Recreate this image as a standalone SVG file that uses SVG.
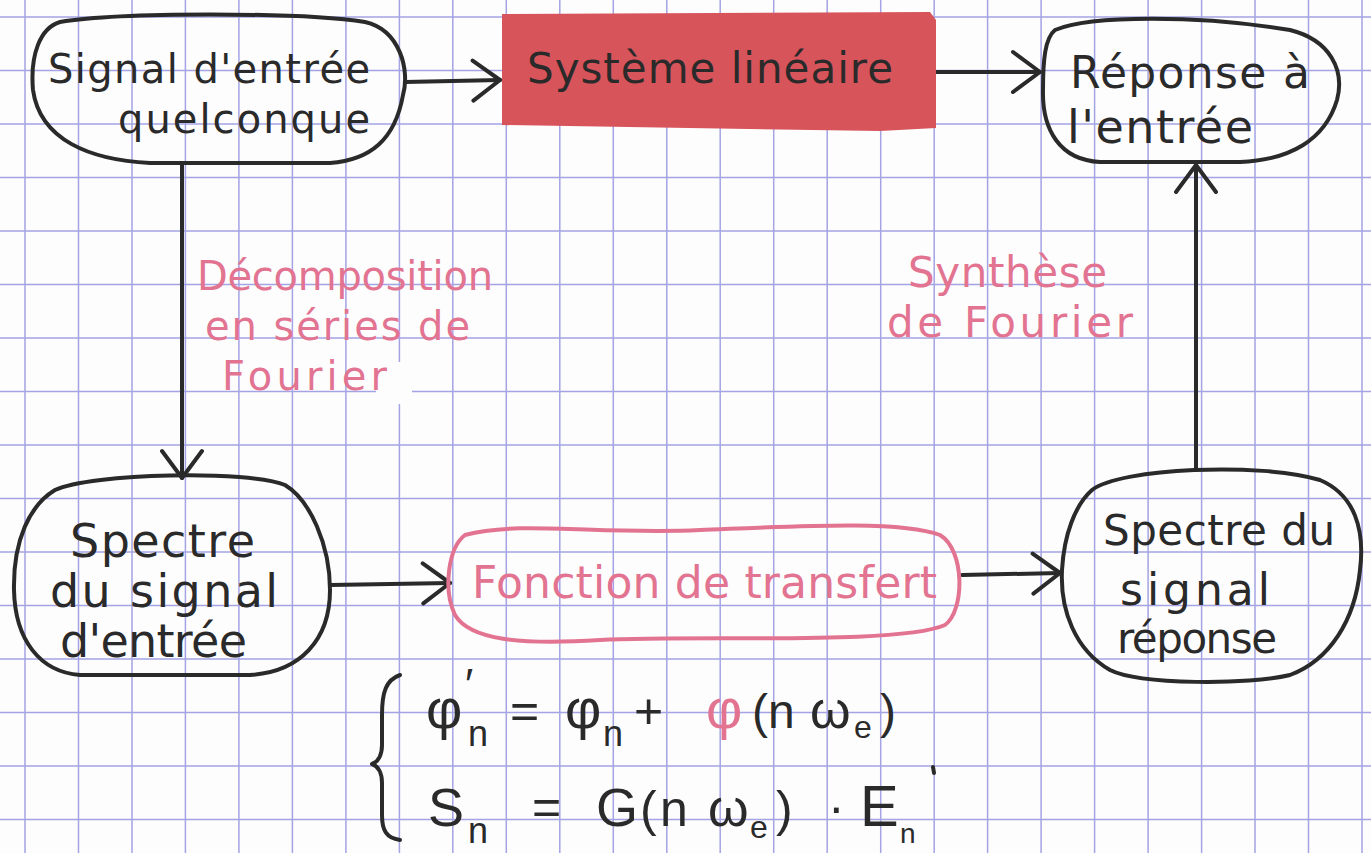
<svg xmlns="http://www.w3.org/2000/svg" width="1371" height="853" viewBox="0 0 1371 853">
<style>
.grid{stroke:#a4a4e4;stroke-width:1.5;fill:none}
.ink{fill:none;stroke:#2a2a2a;stroke-width:4;stroke-linecap:round;stroke-linejoin:round}
.pink{fill:none;stroke:#e27391;stroke-width:4;stroke-linecap:round;stroke-linejoin:round}
.t{font-family:"DejaVu Sans","Liberation Sans",sans-serif;fill:#2a2a2a}
.tp{font-family:"DejaVu Sans","Liberation Sans",sans-serif;fill:#e27391}
.m{font-family:"Liberation Sans","DejaVu Sans",sans-serif;fill:#2a2a2a}
.mp{fill:#e27391}
</style>
<defs>
<marker id="chev" markerUnits="userSpaceOnUse" viewBox="0 0 32 46" refX="30" refY="23" markerWidth="32" markerHeight="46" orient="auto">
<path d="M3 3 L30 23 L3 43" fill="none" stroke="#2a2a2a" stroke-width="4" stroke-linecap="round" stroke-linejoin="round"/>
</marker>
</defs>
<rect width="1371" height="853" fill="#fdfdfe"/>
<g id="grid" class="grid">
<path d="M25 0V853M78.5 0V853M132 0V853M185.4 0V853M238.9 0V853M292.4 0V853M345.9 0V853M399.4 0V853M452.8 0V853M506.3 0V853M559.8 0V853M613.3 0V853M666.8 0V853M720.2 0V853M773.7 0V853M827.2 0V853M880.7 0V853M934.2 0V853M987.6 0V853M1041.1 0V853M1094.6 0V853M1148.1 0V853M1201.6 0V853M1255 0V853M1308.5 0V853M1362 0V853"/>
<path d="M0 17H1371M0 70.5H1371M0 124H1371M0 177.5H1371M0 231H1371M0 284.5H1371M0 338H1371M0 391.5H1371M0 445H1371M0 498.5H1371M0 552H1371M0 605.5H1371M0 659H1371M0 712.5H1371M0 766H1371M0 819.5H1371"/>
</g>
<rect x="376" y="362" width="36" height="42" fill="#fdfdfe"/>
<g id="connectors">
<path class="ink" d="M405 82 L500 80" marker-end="url(#chev)"/>
<path class="ink" d="M935 72 L1040 72" marker-end="url(#chev)"/>
<path class="ink" d="M182 165 L182 478" marker-end="url(#chev)"/>
<path class="ink" d="M330 585 L450 583" marker-end="url(#chev)"/>
<path class="ink" d="M962 575 L1060 573" marker-end="url(#chev)"/>
<path class="ink" d="M1196 470 L1196 165" marker-end="url(#chev)"/>
</g>
<g id="n-signal-entree">
<path class="ink" d="M60 22 C120 12,300 12,365 22 C400 30,410 70,403 95 C395 140,370 160,330 163 L150 163 C90 160,40 140,33 90 C30 55,40 28,60 22 Z"/>
<text class="t" x="48" y="83" font-size="40" textLength="322">Signal d'entrée</text>
<text class="t" x="118" y="133" font-size="40" textLength="252">quelconque</text>
</g>
<g id="n-systeme">
<path d="M502 14 L930 12 L936 20 L936 128 L880 131 L502 125 Z" fill="#d8545b"/>
<text class="t" x="527" y="83" font-size="42" textLength="366">Système linéaire</text>
</g>
<g id="n-reponse">
<path class="ink" d="M1055 30 C1090 15,1200 15,1290 30 C1330 40,1345 70,1337 100 C1325 140,1290 160,1240 162 L1100 162 C1060 160,1042 130,1043 90 C1043 60,1045 38,1055 30 Z"/>
<text class="t" x="1070" y="88" font-size="44" textLength="240">Réponse à</text>
<text class="t" x="1067" y="143" font-size="46" textLength="186">l'entrée</text>
</g>
<g id="n-spectre-entree">
<path class="ink" d="M55 490 C90 473,250 470,285 485 C310 500,330 545,330 590 C330 640,300 672,250 675 L80 675 C40 672,15 640,14 590 C13 540,30 505,55 490 Z"/>
<text class="t" x="70" y="557" font-size="46" textLength="185">Spectre</text>
<text class="t" x="50" y="607" font-size="46" textLength="228">du signal</text>
<text class="t" x="60" y="657" font-size="46" textLength="187">d'entrée</text>
</g>
<g id="n-fonction">
<path class="pink" d="M465 535 C520 520,600 535,700 530 C800 526,900 520,940 535 C965 550,965 610,945 625 C900 645,700 635,600 640 C520 645,470 640,455 615 C443 590,448 548,465 535 Z"/>
<text class="tp" x="472" y="598" font-size="44" textLength="465">Fonction de transfert</text>
</g>
<g id="n-spectre-reponse">
<path class="ink" d="M1092 490 C1120 468,1260 462,1320 480 C1355 495,1365 530,1360 570 C1355 620,1330 660,1290 675 C1250 685,1140 685,1110 670 C1075 650,1060 610,1062 570 C1064 535,1075 505,1092 490 Z"/>
<text class="t" x="1103" y="545" font-size="42" textLength="232">Spectre du</text>
<text class="t" x="1120" y="605" font-size="44" textLength="150">signal</text>
<text class="t" x="1117" y="653" font-size="42" textLength="160">réponse</text>
</g>
<g id="label-decomposition">
<text class="tp" x="197" y="290" font-size="40" textLength="296">Décomposition</text>
<text class="tp" x="205" y="340" font-size="40" textLength="265">en séries de</text>
<text class="tp" x="222" y="390" font-size="40" textLength="165">Fourier</text>
</g>
<g id="label-synthese">
<text class="tp" x="908" y="287" font-size="42" textLength="199">Synthèse</text>
<text class="tp" x="887" y="337" font-size="42" textLength="246">de Fourier</text>
</g>
<g id="equations">
<path class="ink" d="M400 675 C386 680,382 692,382 715 L382 745 C382 755,378 762,372 764 C378 766,382 773,382 783 L382 815 C382 830,386 838,400 840"/>
<text class="m" font-size="56"><tspan x="426" y="728">φ</tspan><tspan x="465" y="700" font-size="44">′</tspan><tspan x="468" y="746" font-size="36">n</tspan><tspan x="510" y="728" font-size="50">=</tspan><tspan x="565" y="728">φ</tspan><tspan x="603" y="746" font-size="36">n</tspan><tspan x="634" y="728" font-size="50">+</tspan><tspan class="mp" x="706" y="728">φ</tspan><tspan x="752" y="728" font-size="48">(</tspan><tspan x="768" y="728" font-size="48">n</tspan><tspan x="810" y="728" font-size="52">ω</tspan><tspan x="854" y="738" font-size="32">e</tspan><tspan x="880" y="728" font-size="48">)</tspan></text>
<text class="m" font-size="54"><tspan x="428" y="826">S</tspan><tspan x="468" y="843" font-size="36">n</tspan><tspan x="532" y="824" font-size="50">=</tspan><tspan x="596" y="826">G</tspan><tspan x="640" y="826" font-size="50">(</tspan><tspan x="660" y="826" font-size="50">n</tspan><tspan x="708" y="826" font-size="52">ω</tspan><tspan x="750" y="838" font-size="32">e</tspan><tspan x="776" y="826" font-size="50">)</tspan><tspan x="828" y="824" font-size="50">·</tspan><tspan x="860" y="826" font-size="58">E</tspan><tspan x="900" y="843" font-size="28">n</tspan></text>
<path class="ink" d="M933 767 L934 773" stroke-width="3"/>
</g>
</svg>
